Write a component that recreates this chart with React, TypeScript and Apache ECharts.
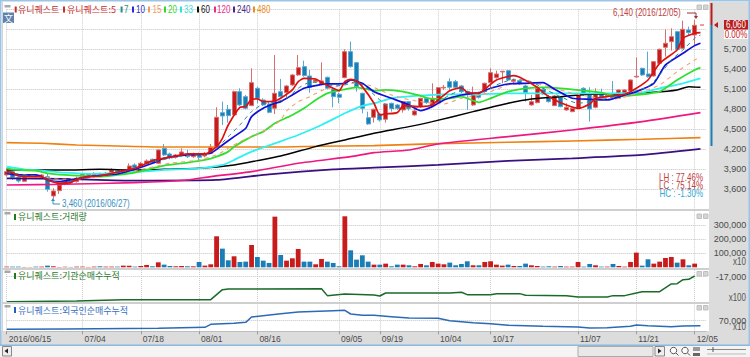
import React, { useEffect, useRef } from "react";
import * as echarts from "echarts";

const tradingDates = [
  "06/15","06/16","06/17","06/20","06/21","06/22","06/23","06/24","06/27","06/28","06/29","06/30",
  "07/01","07/04","07/05","07/06","07/07","07/08","07/11","07/12","07/13","07/14","07/15","07/18","07/19","07/20","07/21","07/22","07/25","07/26","07/27","07/28","07/29",
  "08/01","08/02","08/03","08/04","08/05","08/08","08/09","08/10","08/11","08/12","08/16","08/17","08/18","08/19","08/22","08/23","08/24","08/25","08/26","08/29","08/30","08/31",
  "09/01","09/02","09/05","09/06","09/07","09/08","09/09","09/12","09/13","09/19","09/20","09/21","09/22","09/23","09/26","09/27","09/28","09/29","09/30",
  "10/04","10/05","10/06","10/07","10/10","10/11","10/12","10/13","10/14","10/17","10/18","10/19","10/20","10/21","10/24","10/25","10/26","10/27","10/28","10/31",
  "11/01","11/02","11/03","11/04","11/07","11/08","11/09","11/10","11/11","11/14","11/15","11/16","11/17","11/18","11/21","11/22","11/23","11/24","11/25","11/28","11/29","11/30",
  "12/01","12/02","12/05","",""
];
const labelledDates = ["06/15","07/04","07/18","08/01","08/16","09/05","09/19","10/04","10/17","11/07","11/21","12/05"];

const opens = [3815,3865,3775,3720,3800,3800,3800,3790,3500,3580,3675,3740,3715,3790,3790,3800,3840,3815,3855,3880,3860,3890,3965,3940,3990,4050,3990,4215,4130,4080,4115,4130,4090,4130,4100,4140,4240,4750,4800,4715,5065,4990,4855,5115,4940,4880,4815,5065,5050,5165,5315,5440,5300,5215,5175,5280,5100,5025,5275,5665,5500,5040,4675,4680,4730,4650,4890,4865,4790,4915,4715,4840,4965,4850,4900,5120,5215,5215,5150,5065,4865,5015,5065,5200,5275,5360,5380,5220,5230,5150,4865,4900,5100,4990,4855,4980,4790,4765,4815,5115,5030,4830,5040,5005,5040,4965,4990,5075,5285,5415,5330,5300,5490,5730,5815,5965,5715,5990,5915];
const closes = [3865,3780,3725,3775,3815,3790,3815,3600,3575,3665,3725,3700,3765,3830,3830,3840,3805,3840,3890,3860,3880,3950,3925,3990,4025,4000,4190,4115,4080,4115,4160,4090,4130,4080,4140,4230,4680,4700,4705,5065,4865,4815,5200,4965,4865,4755,5040,4990,5150,5315,5425,5305,5130,5240,5225,5115,4990,4980,5665,5440,5140,4815,4580,4800,4640,4880,4815,4815,4915,4815,4775,4965,4900,4965,5125,5130,5130,5130,5065,5040,5015,4980,5190,5350,5330,5370,5240,5240,5180,5050,4915,5115,5030,4915,5000,4840,4830,4815,5015,5015,4805,5040,4980,5025,4990,5090,5090,5240,5295,5315,5290,5515,5700,5790,5890,5700,6000,5950,6060];
const lows = [3790,3740,3700,3710,3790,3775,3790,3565,3460,3530,3660,3680,3700,3775,3770,3780,3780,3790,3830,3840,3840,3865,3900,3915,3970,3980,3980,4100,4050,4060,4090,4070,4070,4015,4080,4130,4240,4565,4600,4715,4850,4800,4850,4890,4850,4740,4730,4975,4980,5150,5300,5290,5050,5200,5165,5100,4830,4890,5265,5425,5065,4740,4565,4600,4615,4600,4765,4790,4750,4780,4705,4825,4880,4840,4880,5090,5090,5115,5040,4790,4850,4960,5050,5115,5260,5190,5225,5190,5165,4915,4855,4890,5015,4900,4850,4830,4780,4755,4805,5000,4615,4815,4965,4980,4975,4955,4980,5065,5275,5300,5275,5290,5480,5590,5680,5690,5705,5900,5765];
const highs = [3915,3880,3790,3790,3825,3815,3830,3840,3615,3700,3740,3765,3790,3850,3840,3855,3850,3860,3915,3900,3900,3990,3990,4010,4050,4060,4200,4280,4150,4130,4215,4190,4150,4150,4160,4280,4830,4915,4865,5080,5115,5015,5415,5140,4965,4915,5615,5255,5165,5330,5615,5530,5390,5260,5505,5290,5130,5050,5700,5815,5510,5050,4765,4810,4750,4890,4900,4880,4925,4925,4800,4975,4980,5190,5135,5165,5265,5240,5165,5080,5140,5040,5200,5415,5380,5380,5390,5260,5250,5165,5015,5125,5115,5015,5015,4990,4890,4830,5025,5130,5130,5115,5110,5040,5225,5100,5100,5250,5580,5425,5665,5525,5710,6000,6015,5975,6130,6040,6140];

const volumes = [4800,4800,4800,2400,2400,4800,4800,11900,7100,2400,4800,2400,4800,4800,2400,4800,7100,4800,4800,4800,11900,11900,4800,9500,16700,7100,35700,19000,9500,7100,9500,7100,7100,38100,11900,21400,221400,133300,50000,78600,38100,40500,159500,73800,47600,31000,361900,88100,47600,64300,131000,40500,40500,21400,59500,40500,31000,7100,364300,121400,54800,85700,40500,19000,19000,26200,7100,19000,19000,14300,7100,23800,14300,38100,26200,21400,33300,14300,23800,42900,14300,14300,38100,42900,19000,11900,19000,9500,9500,26200,14300,9500,4800,7100,4800,9500,4800,4800,38100,4800,23800,14300,4800,4800,23800,9500,4800,38100,104800,11900,57100,26200,40500,66700,73800,33300,57100,14300,26200];

const ma5 = [[0,3865],[1,3850],[2,3800],[5,3790],[6,3790],[7,3740],[9,3690],[11,3700],[12,3750],[14,3790],[16,3800],[18,3840],[22,3915],[25,4030],[26,4050],[29,4100],[31,4130],[34,4130],[36,4240],[37,4365],[38,4565],[40,4830],[41,4840],[42,4950],[43,4955],[44,4915],[46,4925],[47,4965],[49,5090],[50,5215],[51,5265],[53,5255],[54,5205],[56,5115],[57,5080],[58,5215],[59,5250],[60,5225],[61,5140],[63,4890],[64,4715],[65,4730],[67,4750],[68,4850],[69,4850],[71,4840],[73,4865],[74,4940],[76,5080],[78,5125],[79,5055],[81,5040],[82,5100],[84,5240],[87,5305],[88,5280],[91,5130],[92,5050],[94,4940],[96,4865],[98,4815],[100,4880],[101,4960],[103,4990],[106,5025],[108,5115],[110,5240],[112,5490],[115,5690],[116,5865],[118,5940],[119,5950]];
const ma7 = [[0,3850],[5,3800],[7,3755],[9,3700],[12,3740],[16,3805],[20,3865],[25,4005],[30,4100],[34,4125],[36,4215],[38,4390],[40,4565],[42,4765],[44,4880],[46,4905],[48,4965],[50,5115],[52,5205],[54,5200],[56,5150],[58,5165],[60,5215],[62,5100],[64,4940],[66,4815],[68,4815],[70,4830],[72,4850],[74,4915],[76,5015],[78,5080],[80,5050],[82,5065],[84,5165],[87,5250],[90,5215],[92,5115],[95,4990],[98,4890],[100,4915],[103,4965],[106,5025],[108,5080],[110,5140],[112,5315],[114,5540],[116,5690],[118,5865],[119,5915]];
const ma10 = [[0,3840],[2,3815],[5,3815],[6,3790],[7,3740],[9,3715],[11,3740],[14,3790],[17,3815],[19,3830],[22,3900],[25,3990],[27,4065],[30,4110],[33,4125],[35,4140],[37,4265],[39,4390],[41,4515],[42,4690],[44,4815],[46,4890],[47,4915],[49,5015],[51,5115],[53,5155],[55,5180],[58,5190],[59,5240],[61,5190],[63,5065],[66,4965],[69,4865],[71,4780],[73,4840],[75,4940],[78,5015],[81,5050],[83,5115],[86,5180],[89,5190],[92,5200],[94,5100],[97,4965],[100,4950],[103,4940],[106,5015],[108,5065],[111,5190],[113,5465],[116,5640],[118,5755],[119,5790]];
const ma15 = [[0,3830],[5,3805],[9,3750],[14,3780],[20,3850],[24,3915],[28,3990],[33,4040],[36,4115],[38,4215],[40,4315],[42,4390],[45,4515],[47,4640],[48,4775],[50,4915],[52,4990],[54,5080],[56,5130],[59,5190],[62,5165],[64,5090],[66,5015],[68,4965],[71,4915],[75,4880],[78,4965],[82,5030],[86,5165],[90,5190],[93,5140],[96,5065],[100,4990],[104,4950],[108,5040],[112,5165],[115,5365],[118,5540],[119,5590]];
const ma20 = [[0,3915],[2,3890],[5,3880],[7,3840],[10,3815],[13,3800],[16,3790],[19,3815],[22,3850],[25,3915],[27,3955],[31,4000],[34,4040],[36,4090],[38,4165],[39,4240],[42,4390],[44,4465],[46,4590],[49,4715],[51,4815],[53,4940],[55,5040],[58,5100],[60,5130],[62,5100],[63,5080],[65,5090],[68,5065],[71,5000],[73,4955],[76,4965],[78,4990],[81,4905],[83,4965],[86,5065],[89,5115],[92,5130],[95,5115],[99,5080],[102,5050],[105,4990],[108,5015],[112,5065],[115,5240],[118,5390],[119,5425]];
const ma33 = [[0,3940],[3,3900],[6,3880],[10,3850],[15,3830],[19,3850],[23,3865],[27,3890],[33,3915],[37,3965],[39,4040],[42,4165],[46,4290],[50,4415],[54,4565],[58,4740],[61,4850],[63,4890],[66,4965],[70,5000],[75,5025],[80,5025],[86,5040],[92,5040],[97,5040],[103,5040],[109,5050],[112,5115],[116,5190],[119,5265]];
const ma60 = [[0,3890],[10,3890],[16,3900],[22,3890],[27,3900],[33,3915],[39,3965],[43,4030],[47,4100],[53,4240],[58,4340],[63,4440],[69,4540],[73,4615],[80,4765],[86,4890],[90,4955],[95,4990],[100,5025],[105,5030],[111,5055],[115,5090],[117,5140],[119,5130]];
const ma120 = [[0,3665],[10,3675],[22,3700],[31,3740],[35,3790],[42,3865],[50,3990],[59,4090],[63,4150],[69,4190],[74,4280],[86,4390],[97,4490],[109,4615],[119,4750]];
const ma240 = [[0,3765],[10,3755],[22,3730],[36,3740],[45,3825],[56,3900],[63,3925],[74,3965],[86,4025],[97,4065],[109,4115],[119,4205]];
const ma480 = [[0,4300],[6,4290],[12,4265],[19,4250],[27,4235],[36,4235],[47,4235],[53,4245],[63,4255],[74,4285],[86,4305],[97,4325],[109,4350],[119,4375]];

const institutional = [[0,-18875],[12,-18825],[20,-18725],[35,-18725],[37,-17975],[38,-17925],[54,-17900],[55,-18425],[58,-18300],[63,-18375],[64,-18450],[65,-18225],[76,-18225],[78,-18175],[79,-18350],[83,-18350],[84,-18275],[88,-18275],[89,-18400],[96,-18425],[98,-18525],[103,-18525],[104,-18425],[106,-18425],[108,-18225],[109,-18125],[112,-18125],[114,-17550],[115,-17525],[116,-17225],[117,-17200],[118,-16950]];
const foreign = [[0,66750],[10,66875],[26,67125],[34,67500],[35,68625],[39,69000],[41,69375],[42,71375],[47,72625],[50,73250],[56,73750],[58,73875],[59,72500],[61,72000],[63,72000],[66,71500],[69,71000],[74,70875],[76,70000],[80,69250],[83,68875],[86,68250],[92,67875],[98,67625],[100,67250],[103,67375],[107,67875],[108,68375],[110,68125],[114,67750],[116,68000],[119,68125]];

const priceTicks = { min: 3300, max: 6300, step: 300 };
const volumeTicks = [100000, 200000, 300000];
const institutionalTicks = [-17000];
const foreignTicks = [70000];

const SANS = '"Liberation Sans",sans-serif';
const KR = '"Noto Sans CJK KR",sans-serif';
const RED = "#c81c1c";
const BLUE = "#1b7db5";

const legendItems = [
  { t: "유니퀘스트", c: "#c03030", m: 14.7, x: 18, kr: true },
  { t: "유니퀘스트:5", c: "#d02a2a", m: 63, x: 67, kr: true },
  { t: "7", c: "#2a8a8a", m: 120.6, x: 124 },
  { t: "10", c: "#2a2ad8", m: 132, x: 136 },
  { t: "15", c: "#f09a60", m: 148, x: 152.6 },
  { t: "20", c: "#30d830", m: 164, x: 168 },
  { t: "33", c: "#30e0e0", m: 180, x: 184 },
  { t: "60", c: "#111111", m: 197, x: 201 },
  { t: "120", c: "#ee2a88", m: 214, x: 217 },
  { t: "240", c: "#4a2a90", m: 233, x: 237 },
  { t: "480", c: "#f08a20", m: 253, x: 257 },
];

function txt(text: string, x: number, y: number, fill: string, font: string, align = "left", z = 50) {
  return { type: "text", z, silent: true, style: { text, x, y, fill, font, align, verticalAlign: "middle" } };
}
// narrow numeric label, squeezed horizontally like the reference's bitmap font
function ntxt(text: string, x: number, y: number, fill: string, align = "left", z = 50) {
  return { type: "text", z, silent: true, x, y, scaleX: 0.8, style: { text, x: 0, y: 0, fill, font: "10px " + SANS, align, verticalAlign: "middle" } };
}
function rect(x: number, y: number, width: number, height: number, fill: string, z = 50, stroke?: string) {
  return { type: "rect", z, silent: true, shape: { x, y, width, height }, style: { fill, stroke: stroke || undefined, lineWidth: stroke ? 1 : 0 } };
}
function seg(x1: number, y1: number, x2: number, y2: number, stroke: string, z = 50, lineWidth = 1) {
  return { type: "line", z, silent: true, shape: { x1, y1, x2, y2 }, style: { stroke, lineWidth } };
}
function tri(points: number[][], fill: string, z = 50) {
  return { type: "polygon", z, silent: true, shape: { points }, style: { fill } };
}

function buildGraphics() {
  const G = "#dcdcdc";
  const el: any[] = [
    rect(0, 0, 750, 357, "#ffffff", -10),
    rect(709, 2, 41, 344, G, -9),
    rect(0, 331, 750, 14.5, G, -9),
    rect(0, 346, 750, 11, "#f4f4f4", -9),
    rect(0, 0, 750, 1.5, "#9cc4e4", -8),
    rect(0, 0, 1.5, 346, "#9cc4e4", -8),
    rect(748.5, 0, 1.5, 346, "#9cc4e4", -8),
    rect(0, 344.5, 750, 1.5, "#8ab8e0", -8),
    rect(2, 2, 1, 330, "#d4d4d4", -8),
    rect(2, 209, 707, 2, "#cfcfcf", 40),
    rect(2, 268, 707, 2, "#cfcfcf", 40),
    rect(2, 302, 707, 2, "#cfcfcf", 40),
    rect(3, 12.5, 11, 10.5, "#5e82ac", 50),
    txt("文", 8.5, 18, "#ffffff", "9px " + KR, "center"),
    seg(711.5, 3, 711.5, 25, "#b81c1c", 50, 2),
    seg(711.5, 25, 711.5, 146, BLUE, 50, 2),
    tri([[714, 25], [718, 22], [718, 28]], "#b81c1c"),
    seg(700, 25, 704, 25, "#d04040"),
    rect(724, 20, 24, 9.5, "#b81c1c"),
    ntxt("6,060", 736, 25, "#ffffff", "center"),
    rect(724, 30, 24, 9, "#ffffff"),
    ntxt("0.00%", 736, 34.5, "#c81c1c", "center"),
    ntxt("x10", 746, 262, "#555555", "right"),
    ntxt("x100", 746, 298, "#555555", "right"),
    ntxt("x10", 746, 327, "#555555", "right"),
    txt("유니퀘스트:거래량", 18, 216.5, "#2e7a2e", "9px " + KR),
    txt("유니퀘스트:기관순매수누적", 18, 275.5, "#2e7a2e", "9px " + KR),
    txt("유니퀘스트:외국인순매수누적", 18, 310, "#3a6ec0", "9px " + KR),
    rect(14, 214, 2, 6, "#1f7a1f"),
    rect(14, 273, 2, 6, "#1f7a1f"),
    rect(14, 307, 2, 6, "#2060c0"),
    seg(53, 200, 53, 204, "#3a90c0"),
    seg(53, 204, 60, 204, "#3a90c0"),
    tri([[53, 198], [51, 201], [55, 201]], "#3a90c0"),
    ntxt("3,460 (2016/06/27)", 62, 204, "#3a90c0"),
    ntxt("6,140 (2016/12/05)", 613, 13, "#c04040"),
    seg(687, 13, 696, 13, "#a03030"),
    seg(696, 13, 696, 17, "#a03030"),
    tri([[696, 19], [694, 16], [698, 16]], "#a03030"),
    ntxt("LH : 77.46%", 703, 178, "#c04040", "right"),
    ntxt("LC : 75.14%", 703, 186, "#c04040", "right"),
    ntxt("HC : -1.30%", 703, 194, "#30a8d0", "right"),
    rect(2.5, 346.5, 9, 9.5, "#eeeeee", 50, "#888888"),
    tri([[4.5, 351], [8, 348.5], [8, 353.5]], "#222222"),
    rect(578, 346.5, 75, 10, "#e8e8e8", 50, "#aaaaaa"),
    rect(655, 346.5, 9.5, 9.5, "#eeeeee", 50, "#888888"),
    tri([[661.5, 351], [658, 348.5], [658, 353.5]], "#222222"),
    { type: "circle", z: 50, silent: true, shape: { cx: 673.5, cy: 350.5, r: 3.2 }, style: { fill: "#ffffff", stroke: "#555555", lineWidth: 1 } },
    seg(676, 353, 678.5, 355.5, "#555555"),
    { type: "circle", z: 50, silent: true, shape: { cx: 685, cy: 350.5, r: 3.2 }, style: { fill: "#ffffff", stroke: "#555555", lineWidth: 1 } },
    seg(687.5, 353, 690, 355.5, "#555555"),
    rect(693, 347, 7, 4, "#9a9a9a"),
    rect(693, 353, 7, 3, "#666666"),
    seg(707, 349.5, 746, 349.5, "#888888"),
    seg(713, 347, 713, 352, "#555555"),
    seg(707, 354, 746, 354, "#bbbbbb"),
  ];
  for (const y of [5, 212, 270.5, 305]) el.push(rect(4.5, y, 6, 2.5, "#a8a8a8"));
  for (const y of [7, 216, 273.5, 307.5]) {
    el.push(rect(697, y - 2, 4.5, 4.5, "#d4d4d4", 50, "#c0c0c0"));
    el.push(rect(703.5, y - 2, 4.5, 4.5, "#d4d4d4", 50, "#c0c0c0"));
  }
  for (const it of legendItems) {
    el.push(rect(it.m, 6.5, 2, 6, it.c));
    el.push(it.kr ? txt(it.t, it.x, 9.5, it.c, "9px " + KR) : ntxt(it.t, it.x, 9.5, it.c));
  }
  return el;
}

const isLabelled = (idx: number) => labelledDates.includes(tradingDates[idx]);
const gridLine = { show: true, interval: (i: number) => isLabelled(i), lineStyle: { color: "#cccccc", type: "dotted" as const, width: 1 } };
const ySplit = { show: true, lineStyle: { color: "#c4c4c4", type: "dotted" as const, width: 1 } };
const fmt = (v: number) => Number(v).toLocaleString("en-US");
const yLabel = { color: "#4a4a4a", fontFamily: SANS, fontSize: 9, margin: 40, align: "right" as const };

function maLine(name: string, data: number[][], color: string, width: number, dashed = false) {
  return {
    type: "line", name, data, xAxisIndex: 0, yAxisIndex: 0, showSymbol: false, symbol: "none", smooth: 0.2, clip: false, silent: true,
    lineStyle: { color, width, type: dashed ? ([4, 4] as any) : "solid", opacity: 1 },
  };
}

export default function App() {
  const ref = useRef<HTMLDivElement>(null);
  useEffect(() => {
    document.body.style.margin = "0";
    const chart = echarts.init(ref.current!, null, { renderer: "svg" });
    const left = 6.7;
    const width = 699.6;
    const grid = [
      { left, width, top: 9.3, height: 200 },
      { left, width, top: 211.3, height: 56 },
      { left, width, top: 270, height: 33.3 },
      { left, width, top: 304.7, height: 26.6 },
    ];
    const xAxis = grid.map((_, i) => ({
      type: "category" as const,
      gridIndex: i,
      data: tradingDates,
      boundaryGap: false,
      axisLine: { show: i === 3, lineStyle: { color: "#bdbdbd" } },
      axisTick: { show: i === 3, interval: (k: number) => isLabelled(k), length: 3, lineStyle: { color: "#9a9a9a" } },
      splitLine: gridLine,
      axisLabel: {
        show: i === 3,
        interval: (k: number) => isLabelled(k),
        formatter: (v: string) => (v === "06/15" ? "2016/06/15" : v),
        color: "#4a4a4a",
        fontFamily: SANS,
        fontSize: 8.5,
        align: "left" as const,
        margin: 3,
        padding: [0, 0, 0, 2],
      },
    }));
    const yAxis = [
      {
        type: "value" as const, gridIndex: 0, position: "right" as const, scale: true,
        min: priceTicks.min, max: priceTicks.max, interval: priceTicks.step,
        axisLine: { show: false }, axisTick: { show: false }, splitLine: ySplit,
        axisLabel: { ...yLabel, formatter: (v: number) => (v <= 3300 || v >= 6000 ? "" : fmt(v)) },
      },
      {
        type: "value" as const, gridIndex: 1, position: "right" as const, min: 0, max: 400000,
        axisLine: { show: false }, axisTick: { show: false, customValues: volumeTicks }, splitLine: ySplit,
        axisLabel: { ...yLabel, customValues: volumeTicks, formatter: fmt },
      },
      {
        type: "value" as const, gridIndex: 2, position: "right" as const, min: -19000, max: -16500,
        axisLine: { show: false }, axisTick: { show: false, customValues: institutionalTicks }, splitLine: ySplit,
        axisLabel: { ...yLabel, customValues: institutionalTicks, formatter: fmt },
      },
      {
        type: "value" as const, gridIndex: 3, position: "right" as const, min: 66000, max: 76000,
        axisLine: { show: false }, axisTick: { show: false, customValues: foreignTicks }, splitLine: ySplit,
        axisLabel: { ...yLabel, customValues: foreignTicks, formatter: fmt },
      },
    ];
    const candles = opens.map((o, i) => [o, closes[i], lows[i], highs[i]]);
    const volumeBars = volumes.map((v, i) => ({
      value: v,
      itemStyle: { color: closes[i] >= opens[i] ? RED : BLUE },
    }));
    const option: any = {
      animation: false,
      backgroundColor: "transparent",
      grid,
      xAxis,
      yAxis,
      graphic: { elements: buildGraphics() },
      series: [
        {
          type: "candlestick", name: "유니퀘스트", xAxisIndex: 0, yAxisIndex: 0, data: candles, barWidth: 4.5, clip: false, silent: true,
          itemStyle: { color: RED, color0: BLUE, borderColor: "#d67070", borderColor0: "#5aa8d2", borderWidth: 1 },
        },
        maLine("480", ma480, "#f08010", 1.6),
        maLine("240", ma240, "#3a1080", 1.8),
        maLine("120", ma120, "#f01880", 1.6),
        maLine("60", ma60, "#000000", 1.5),
        maLine("33", ma33, "#30f0f0", 1.8),
        maLine("20", ma20, "#30e030", 1.8),
        maLine("15", ma15, "#f4a070", 1.1, true),
        maLine("10", ma10, "#1010d8", 1.7),
        maLine("7", ma7, "#2a8a8a", 1, true),
        maLine("5", ma5, "#e01010", 1.7),
        {
          type: "bar", name: "거래량", xAxisIndex: 1, yAxisIndex: 1, data: volumeBars, barWidth: 4.8, clip: false, silent: true,
        },
        {
          type: "line", name: "기관순매수누적", xAxisIndex: 2, yAxisIndex: 2, data: institutional, showSymbol: false, symbol: "none", silent: true,
          lineStyle: { color: "#1a6a2a", width: 1.5 },
        },
        {
          type: "line", name: "외국인순매수누적", xAxisIndex: 3, yAxisIndex: 3, data: foreign, showSymbol: false, symbol: "none", silent: true, clip: false,
          lineStyle: { color: "#2a6ab8", width: 1.5 },
        },
      ],
    };
    chart.setOption(option);
    return () => chart.dispose();
  }, []);
  return <div ref={ref} style={{ width: 750, height: 357, overflow: "hidden" }} />;
}
